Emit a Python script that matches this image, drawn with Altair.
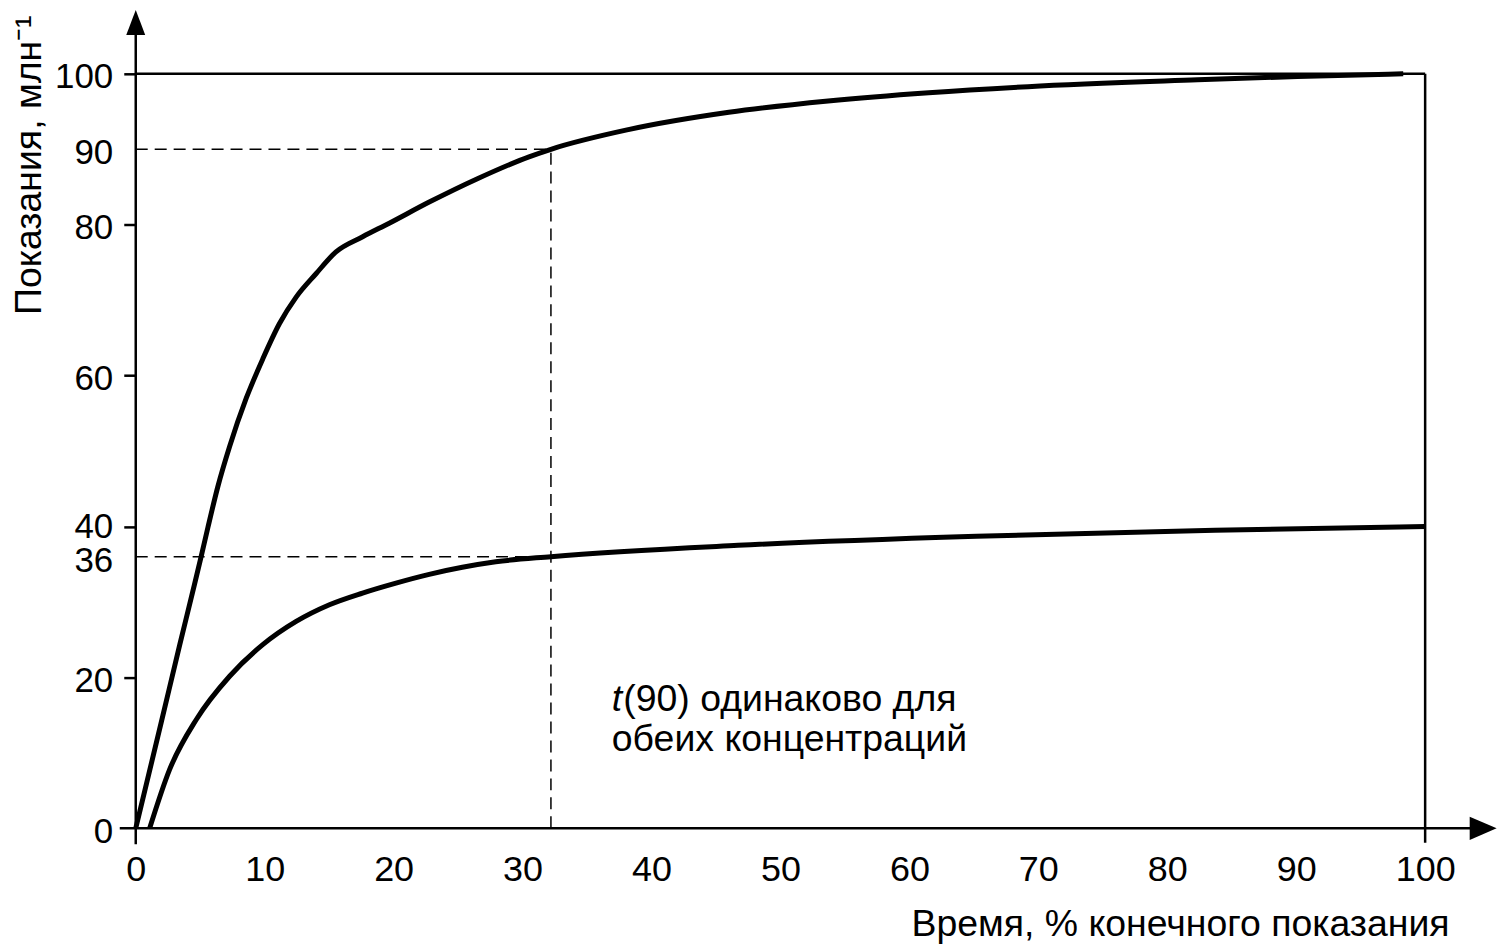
import altair as alt
import pandas as pd

FONT = "Liberation Sans"

# ---- data ----
upper_x = [0, 2.0, 3.41, 4.41, 5.03, 5.6, 6.37, 7.28, 8.57, 9.85, 11.15, 12.44, 13.98,
           15.53, 17.6, 19.66, 22.76, 26.5, 30.5, 32.2, 38.2, 46.0, 53.7, 61.5, 69.2,
           82.35, 90.1, 98.3]
upper_y = [0, 14.2, 24.3, 31.3, 35.7, 39.9, 45.3, 50.6, 57.0, 62.2, 66.9, 70.4, 73.5,
           76.4, 78.4, 80.2, 83.0, 86.1, 89.0, 90.0, 92.6, 94.9, 96.4, 97.5, 98.3,
           99.2, 99.65, 100.0]
lower_x = [1.08, 2.63, 4.70, 7.28, 9.85, 12.44, 15.02, 17.59, 20.18, 22.76, 25.33, 27.92,
           32.2, 46.7, 65.2, 83.7, 100.0]
lower_y = [0, 7.8, 14.42, 20.15, 24.34, 27.42, 29.63, 31.18, 32.5, 33.66, 34.59, 35.32,
           36.0, 37.5, 38.7, 39.5, 40.0]

x_ticks = [0, 10, 20, 30, 40, 50, 60, 70, 80, 90, 100]
y_ticks = [0, 20, 36, 40, 60, 80, 90, 100]

t90 = 32.2
level_high = 90
level_low = 36

# frame / axis lines (data units)
frame_x = [0, 100, -1.24, 0]
frame_y = [100, -1.9, 0, -2.1]
frame_x2 = [100, 100, 103.6, 0]
frame_y2 = [100, 100, 0, 105.3]

# annotation
note_x = [36.92, 36.92]
note_y = [15.5, 10.2]
note_lines = ["(90) одинаково для", "обеих концентраций"]

x_title = "Время, % конечного показания"
y_title = "Показания, млн⁻¹"

# ---- tables ----
curves = pd.DataFrame({
    "x": upper_x + lower_x,
    "y": upper_y + lower_y,
    "series": ["high"] * len(upper_x) + ["low"] * len(lower_x),
})
dashed = pd.DataFrame({
    "x": [0, 0, t90], "y": [level_high, level_low, 0],
    "x2": [t90, t90, t90], "y2": [level_high, level_low, level_high],
})
frame = pd.DataFrame({"x": frame_x, "y": frame_y, "x2": frame_x2, "y2": frame_y2})
arrow_up = pd.DataFrame({"x": [0], "y": [106.8]})
arrow_right = pd.DataFrame({"x": [104.5], "y": [0]})
note1 = pd.DataFrame({"x": [note_x[0]], "y": [note_y[0]], "txt": [note_lines[0]]})
note2 = pd.DataFrame({"x": [note_x[1]], "y": [note_y[1]], "txt": [note_lines[1]]})
note_t = pd.DataFrame({"x": [note_x[0]], "y": [note_y[0]], "txt": ["t"]})

xs = alt.Scale(domain=[0, 100], nice=False, zero=False)
ys = alt.Scale(domain=[0, 100], nice=False, zero=False)

x_axis = alt.Axis(
    values=x_ticks, domain=False, ticks=False, grid=False, format="d",
    labelFont=FONT, labelFontSize=36, labelColor="black", labelPadding=24,
    labelFlush=False, labelOverlap=False,
    title=x_title, titleFont=FONT, titleFontSize=37.5, titleFontWeight="normal",
    titleColor="black", titleAlign="right", titleAnchor="end",
    titleBaseline="alphabetic", titleX=1316, titleY=107,
)
y_axis = alt.Axis(
    values=y_ticks, domain=False, ticks=True, tickSize=12, tickWidth=2.5,
    tickColor="black",
    tickOpacity={"condition": {"test": "datum.value == 0 || datum.value == 36 || datum.value == 90",
                               "value": 0}, "value": 1},
    grid=False, format="d",
    labelFont=FONT, labelFontSize=35, labelColor="black", labelPadding=11,
    labelFlush=False, labelOverlap=False, labelBaseline="middle",
    labelOffset={"condition": [{"test": "datum.value == 36", "value": 4},
                               {"test": "datum.value == 40", "value": 0}],
                 "value": 3},
    title=y_title, titleFont=FONT, titleFontSize=37.5, titleFontWeight="normal",
    titleColor="black", titleAngle=270, titleAlign="right",
    titleBaseline="alphabetic", titleX=-95, titleY=-59,
)


def X(field="x"):
    return alt.X(f"{field}:Q", scale=xs, axis=x_axis)


def Y(field="y"):
    return alt.Y(f"{field}:Q", scale=ys, axis=y_axis)


lines = alt.Chart(curves).mark_line(
    color="black", strokeWidth=5, interpolate="monotone", strokeCap="butt"
).encode(x=X(), y=Y(), detail="series:N")

dash = alt.Chart(dashed).mark_rule(
    color="black", strokeWidth=1.5, strokeDash=[12, 7]
).encode(x=X(), y=Y(), x2="x2:Q", y2="y2:Q")

frm = alt.Chart(frame).mark_rule(color="black", strokeWidth=2.5).encode(
    x=X(), y=Y(), x2="x2:Q", y2="y2:Q"
)

up = alt.Chart(arrow_up).mark_point(
    shape="M0,-1L0.76,1L-0.76,1Z", size=625, filled=True, color="black",
    opacity=1, strokeWidth=0
).encode(x=X(), y=Y())

right = alt.Chart(arrow_right).mark_point(
    shape="M1,0L-1,-0.86L-1,0.86Z", size=729, filled=True, color="black",
    opacity=1, strokeWidth=0
).encode(x=X(), y=Y())

t_mark = alt.Chart(note_t).mark_text(
    font=FONT, fontSize=37.5, fontStyle="italic", align="left",
    baseline="alphabetic", color="black"
).encode(x=X(), y=Y(), text="txt:N")

n1 = alt.Chart(note1).mark_text(
    font=FONT, fontSize=37.5, align="left", baseline="alphabetic", color="black", dx=11.5
).encode(x=X(), y=Y(), text="txt:N")

n2 = alt.Chart(note2).mark_text(
    font=FONT, fontSize=37.5, align="left", baseline="alphabetic", color="black"
).encode(x=X(), y=Y(), text="txt:N")

chart = alt.layer(frm, dash, lines, up, right, t_mark, n1, n2).properties(
    width=1292, height=756,
    autosize=alt.AutoSizeParams(type="none"),
    padding={"left": 128, "top": 65, "right": 72, "bottom": 115},
    background="white",
).configure_view(stroke=None)

chart.save("out.html", embed_options={"renderer": "svg", "actions": False})
